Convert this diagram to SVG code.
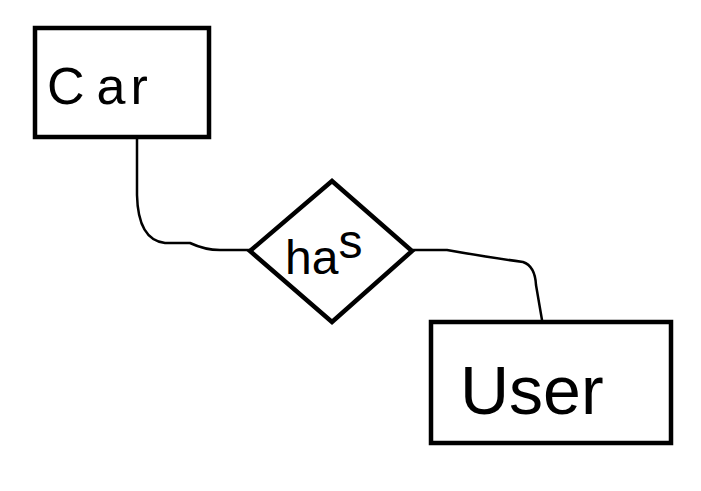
<svg xmlns="http://www.w3.org/2000/svg" width="701" height="491" viewBox="0 0 701 491">
<style>
.box{fill:#fff;stroke:#000;stroke-width:4.5}
.wire{fill:none;stroke:#000;stroke-width:2.5;stroke-linecap:round;stroke-linejoin:round}
.lbl{font-family:"Liberation Sans",Arial,sans-serif;fill:#000}
</style>
<rect width="701" height="491" fill="#fff"/>
<g id="connectors">
<path class="wire" d="M137,139 L137,195 Q138,240 165,243 L190,243 Q205,250 220,250 L250,250"/>
<path class="wire" d="M413,250 L447,250 Q480,256 523,262 Q535,266 536,285 L542,320"/>
</g>
<g id="car">
<rect class="box" x="35" y="28" width="174" height="109"/>
<text class="lbl" x="47" y="104" font-size="52">C<tspan dx="12" letter-spacing="5">ar</tspan></text>
</g>
<g id="has">
<polygon class="box" points="250,251 332,181 412,251 332,322"/>
<text class="lbl" x="285" y="274" font-size="48">ha<tspan dy="-16">s</tspan></text>
</g>
<g id="user">
<rect class="box" x="431" y="322" width="240" height="121"/>
<text class="lbl" x="460" y="414" font-size="68">User</text>
</g>
</svg>
